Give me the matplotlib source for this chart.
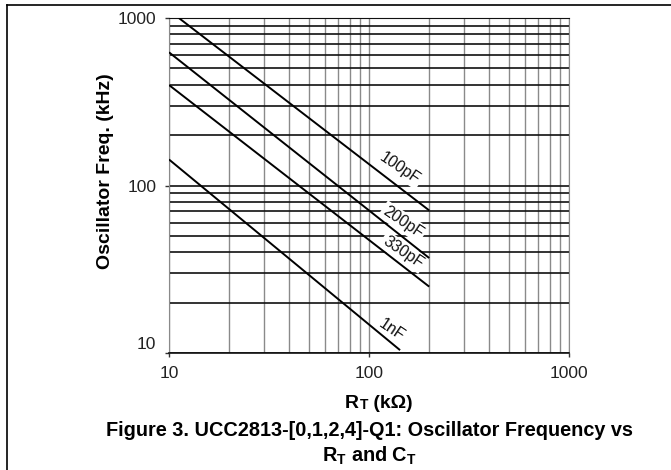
import matplotlib
matplotlib.use("Agg")
import matplotlib.pyplot as plt
import matplotlib.transforms as mtransforms
from matplotlib.lines import Line2D
from matplotlib.ticker import FixedLocator, NullFormatter

plt.rcParams["font.family"] = ["Liberation Sans", "DejaVu Sans"]
plt.rcParams["mathtext.fontset"] = "custom"
plt.rcParams["mathtext.rm"] = "Liberation Sans:bold"
plt.rcParams["mathtext.bf"] = "Liberation Sans:bold"

# curve endpoints (R in kOhm, f in kHz)
cap_labels = ["100pF", "200pF", "330pF", "1nF"]
r_start = [11.2, 10, 10, 10]
r_end = [200, 200, 200, 143]
f_start = [1000, 624, 398, 143]
f_end = [71, 36.9, 24.9, 10.4]
# where each label sits
lab_r = [143, 148, 148, 130]
lab_f = [127, 60.5, 40, 13.7]

x_major = [10, 100, 1000]
y_major = [10, 100, 1000]
x_grid = [10, 20, 30, 40, 50, 60, 70, 80, 90, 100,
          200, 300, 400, 500, 600, 700, 800, 900, 1000]
y_grid = [10, 20, 30, 40, 50, 60, 70, 80, 90, 100,
          200, 300, 400, 500, 600, 700, 800, 900, 1000]

fig = plt.figure(figsize=(6.71, 4.70), dpi=100)
ax = fig.add_axes([169 / 671, 1 - 353 / 470, 400 / 671, 335 / 470])
ax.set_xscale("log"); ax.set_yscale("log")
ax.set_xlim(10, 1000); ax.set_ylim(10, 1000)

for v in x_grid:
    ax.axvline(v, color="#8a8a8a", lw=1.0, zorder=1)
for v in y_grid:
    ax.axhline(v, color="#111111", lw=1.2, zorder=1)

for i, name in enumerate(cap_labels):
    ax.plot([r_start[i], r_end[i]], [f_start[i], f_end[i]], color="black", lw=1.4,
            zorder=3, solid_capstyle="butt")
    ax.text(lab_r[i], lab_f[i], name, rotation=-34, rotation_mode="anchor",
            ha="center", va="center", fontsize=11.5, color="#111111", zorder=2.5,
            bbox=dict(facecolor="white", edgecolor="none", pad=1.5))

for s in ["left", "right"]:
    ax.spines[s].set_color("#8a8a8a")
for s in ["top", "bottom"]:
    ax.spines[s].set_color("#111111")
ax.spines["bottom"].set_linewidth(1.2)

ax.xaxis.set_major_locator(FixedLocator(x_major))
ax.yaxis.set_major_locator(FixedLocator(y_major))
ax.xaxis.set_minor_formatter(NullFormatter())
ax.yaxis.set_minor_formatter(NullFormatter())
ax.set_xticklabels([str(v) for v in x_major])
ax.set_yticklabels([str(v) for v in y_major])
ax.tick_params(which="major", length=3, width=1, color="#333333",
               labelsize=12.5, labelcolor="#222222", pad=6)
ax.tick_params(which="minor", length=0)
# the bottom "10" on the y axis sits a little higher in the original
lbl = ax.get_yticklabels()[0]
lbl.set_transform(lbl.get_transform() + mtransforms.ScaledTranslation(0, 10 / 100, fig.dpi_scale_trans))

# axis titles
fig.text(105 / 671, 1 - 171 / 470, "Oscillator Freq. (kHz)", rotation=90,
         ha="center", va="center", fontsize=14, fontweight="bold")
r_txt = fig.text(345 / 671, 1 - 408 / 470, "R", ha="left", va="baseline",
                 fontsize=14, fontweight="bold")
t_txt = ax.annotate("T", xy=(1, 0), xycoords=r_txt, xytext=(0.5, 0),
                    textcoords="offset points", ha="left", va="bottom",
                    fontsize=10, fontweight="bold")
ax.annotate(" (k\u03a9)", xy=(1, 0), xycoords=t_txt, ha="left", va="bottom",
            fontsize=14, fontweight="bold")

fig.text(369 / 671, 1 - 431 / 470,
         "Figure 3. UCC2813-[0,1,2,4]-Q1: Oscillator Frequency vs",
         ha="center", va="center", fontsize=14.3, fontweight="bold")
fig.text(369 / 671, 1 - 456 / 470, r"R$_\mathbf{T}$ and C$_\mathbf{T}$",
         ha="center", va="center", fontsize=14.3, fontweight="bold")

# page frame lines (top and left)
fig.add_artist(Line2D([7 / 671, 1], [1 - 5 / 470, 1 - 5 / 470], color="black", lw=1.2,
                      transform=fig.transFigure))
fig.add_artist(Line2D([7 / 671, 7 / 671], [0, 1 - 5 / 470], color="black", lw=1.2,
                      transform=fig.transFigure))

fig.savefig("out.png", dpi=100)
